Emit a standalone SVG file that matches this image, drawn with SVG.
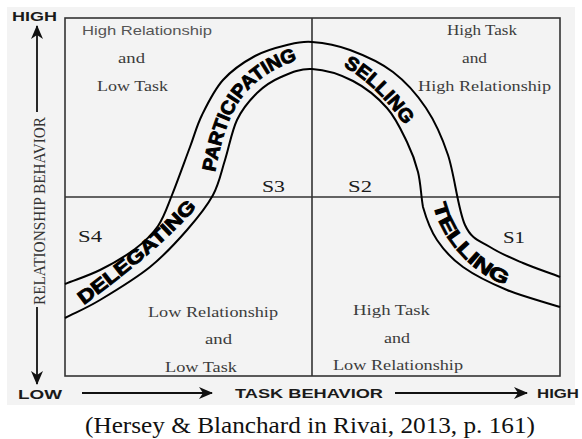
<svg xmlns="http://www.w3.org/2000/svg" width="582" height="439" viewBox="0 0 582 439">
<style>
.frame{fill:none;stroke:#333;stroke-width:1.6}
.curve{fill:none;stroke:#000;stroke-width:2}
.axis{stroke:#111;stroke-width:1.8;fill:none}
.q{font-family:"Liberation Serif",serif;font-size:14px;fill:#3c3c3c}
.qs{font-family:"Liberation Sans",sans-serif;font-size:13px;fill:#555}
.s{font-family:"Liberation Serif",serif;font-size:17px;fill:#1a1a1a}
.ax{font-family:"Liberation Sans",sans-serif;font-weight:bold;font-size:12.5px;fill:#1a1a1a}
.ya{font-family:"Liberation Serif",serif;font-size:17px;fill:#333}
.lbl{font-family:"Liberation Sans",sans-serif;font-weight:bold;font-size:19px;fill:#000;stroke:#000;stroke-width:0.9}
.cap{font-family:"Liberation Serif",serif;font-size:24px;fill:#111}
</style>
<defs>
<marker id="ah" viewBox="0 0 14 12" refX="13" refY="6" markerWidth="14" markerHeight="12" markerUnits="userSpaceOnUse" orient="auto">
<path d="M0,0 L14,6 L0,12 L4,6 Z" fill="#111"/>
</marker>
<path id="p-part" d="M214,178 C219,150 226,120 240,100 C254,80 275,66 305,58"/>
<path id="p-sell" d="M337,63 C360,74 385,95 410,133"/>
<path id="p-tell" d="M432,195 C435,235 475,280 515,287"/>
<path id="p-dele" d="M75,312 C110,285 160,250 205,198"/>
</defs>
<rect x="7" y="7" width="568" height="398" fill="#f3f3f3"/>
<g id="grid">
<rect class="frame" x="65" y="18" width="495" height="358"/>
<line class="frame" x1="312" y1="18" x2="312" y2="376"/>
<line class="frame" x1="65" y1="197" x2="560" y2="197"/>
</g>
<g id="connectors">
<path id="outer-curve" class="curve" d="M65,284 C76.7,279.3 88.3,275.8 100,270 C111.7,264.2 125.3,256.3 135,249 C144.7,241.7 151.8,235 158,226 C164.2,217 166.7,208.2 172,195 C177.3,181.8 185,160.3 190,147 C195,133.7 196.5,126.2 202,115 C207.5,103.8 214.2,89.8 223,80 C231.8,70.2 244.3,61.8 255,56 C265.7,50.2 277.5,47.3 287,45 C296.5,42.7 301.5,41.2 312,42 C322.5,42.8 336.5,45 350,50 C363.5,55 380.3,62.3 393,72 C405.7,81.7 416.8,94.2 426,108 C435.2,121.8 441.5,135.5 448,155 C454.5,174.5 458,209.7 465,225 C472,240.3 480.3,240.7 490,247 C499.7,253.3 511.3,258 523,263 C534.7,268 547.7,272.3 560,277"/>
<path id="inner-curve" class="curve" d="M65,318 C76.7,312 85.8,308.5 100,300 C114.2,291.5 135.5,278.7 150,267 C164.5,255.3 176.5,242 187,230 C197.5,218 206.7,206.7 213,195 C219.3,183.3 221,172.5 225,160 C229,147.5 231.7,131.2 237,120 C242.3,108.8 249.7,100.2 257,93 C264.3,85.8 271.8,81 281,77 C290.2,73 300,68.3 312,69 C324,69.7 340.5,74.5 353,81 C365.5,87.5 378,97.8 387,108 C396,118.2 401.8,131.3 407,142 C412.2,152.7 415.3,161.2 418,172 C420.7,182.8 421,196 423,207 C426.2,218.3 430.3,230 437,240 C443.7,250 451.3,258.7 463,267 C474.7,275.3 490.8,283.3 507,290 C523.2,296.7 542.3,301.3 560,307"/>
<line class="axis" x1="37" y1="112" x2="37" y2="26" marker-end="url(#ah)"/>
<line class="axis" x1="37" y1="307" x2="37" y2="384" marker-end="url(#ah)"/>
<line class="axis" x1="82" y1="393" x2="212" y2="393" marker-end="url(#ah)"/>
<line class="axis" x1="395" y1="393" x2="527" y2="393" marker-end="url(#ah)"/>
</g>
<g id="style-labels">
<text class="lbl"><textPath href="#p-part" startOffset="6" textLength="148" lengthAdjust="spacingAndGlyphs">PARTICIPATING</textPath></text>
<text class="lbl"><textPath href="#p-sell" startOffset="7" textLength="86" lengthAdjust="spacingAndGlyphs">SELLING</textPath></text>
<text class="lbl"><textPath href="#p-tell" startOffset="10" textLength="112" lengthAdjust="spacingAndGlyphs">TELLING</textPath></text>
<text class="lbl"><textPath href="#p-dele" startOffset="11" textLength="150" lengthAdjust="spacingAndGlyphs">DELEGATING</textPath></text>
</g>
<g id="quadrant-q3">
<text class="qs" x="82" y="35" textLength="130" lengthAdjust="spacingAndGlyphs">High Relationship</text>
<text class="q" x="118" y="63" textLength="27" lengthAdjust="spacingAndGlyphs">and</text>
<text class="q" x="97" y="91" textLength="71" lengthAdjust="spacingAndGlyphs">Low Task</text>
<text class="s" x="262" y="192" textLength="23" lengthAdjust="spacingAndGlyphs">S3</text>
</g>
<g id="quadrant-q2">
<text class="q" x="447" y="35" textLength="70" lengthAdjust="spacingAndGlyphs">High Task</text>
<text class="q" x="462" y="63" textLength="25" lengthAdjust="spacingAndGlyphs">and</text>
<text class="q" x="418" y="91" textLength="133" lengthAdjust="spacingAndGlyphs">High Relationship</text>
<text class="s" x="348" y="192" textLength="24" lengthAdjust="spacingAndGlyphs">S2</text>
</g>
<g id="quadrant-q4">
<text class="s" x="78" y="242" textLength="24" lengthAdjust="spacingAndGlyphs">S4</text>
<text class="q" x="148" y="317" textLength="130" lengthAdjust="spacingAndGlyphs">Low Relationship</text>
<text class="q" x="205" y="344" textLength="27" lengthAdjust="spacingAndGlyphs">and</text>
<text class="q" x="165" y="372" textLength="72" lengthAdjust="spacingAndGlyphs">Low Task</text>
</g>
<g id="quadrant-q1">
<text class="s" x="503" y="243" textLength="22" lengthAdjust="spacingAndGlyphs">S1</text>
<text class="q" x="353" y="315" textLength="77" lengthAdjust="spacingAndGlyphs">High Task</text>
<text class="q" x="384" y="343" textLength="26" lengthAdjust="spacingAndGlyphs">and</text>
<text class="q" x="333" y="370" textLength="130" lengthAdjust="spacingAndGlyphs">Low Relationship</text>
</g>
<g id="axis-labels">
<text class="ax" x="12" y="21" textLength="45" lengthAdjust="spacingAndGlyphs">HIGH</text>
<text class="ya" transform="translate(45,305) rotate(-90)" x="0" y="0" textLength="188" lengthAdjust="spacingAndGlyphs">RELATIONSHIP BEHAVIOR</text>
<text class="ax" x="18" y="399" textLength="44" lengthAdjust="spacingAndGlyphs">LOW</text>
<text class="ax" x="235" y="398" textLength="148" lengthAdjust="spacingAndGlyphs">TASK BEHAVIOR</text>
<text class="ax" x="537" y="398" textLength="42" lengthAdjust="spacingAndGlyphs">HIGH</text>
</g>
<g id="caption">
<text class="cap" x="85" y="433" textLength="450" lengthAdjust="spacingAndGlyphs">(Hersey &amp; Blanchard in Rivai, 2013, p. 161)</text>
</g>
</svg>
